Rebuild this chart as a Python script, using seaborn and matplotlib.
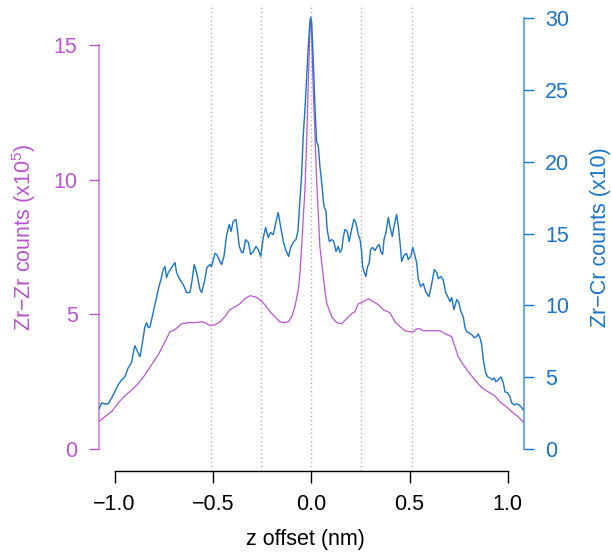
import numpy as np
import pandas as pd
import matplotlib
matplotlib.use("Agg")
import matplotlib.pyplot as plt
import seaborn as sns

# Zr-Zr pair counts (x10^5), left axis
z_zrzr = [-1.080, -1.049, -1.015, -0.982, -0.948, -0.914, -0.880, -0.846, -0.812, -0.778,
          -0.744, -0.719, -0.693, -0.659, -0.626, -0.592, -0.557, -0.541, -0.515, -0.490,
          -0.464, -0.439, -0.414, -0.388, -0.363, -0.337, -0.312, -0.286, -0.261, -0.236,
          -0.210, -0.185, -0.159, -0.134, -0.117, -0.100, -0.083, -0.066, -0.057, -0.049,
          -0.041, -0.032, -0.023, -0.015, -0.007, -0.003, 0.002, 0.010, 0.019, 0.027,
          0.044, 0.061, 0.078, 0.104, 0.129, 0.155, 0.180, 0.205, 0.222, 0.239,
          0.265, 0.290, 0.315, 0.341, 0.366, 0.400, 0.426, 0.451, 0.477, 0.502,
          0.519, 0.536, 0.553, 0.570, 0.604, 0.629, 0.655, 0.680, 0.714, 0.731,
          0.748, 0.773, 0.799, 0.824, 0.849, 0.875, 0.900, 0.934, 0.960, 0.994,
          1.027, 1.053, 1.078]
counts_zrzr = [1.02, 1.20, 1.39, 1.71, 1.97, 2.19, 2.42, 2.75, 3.13, 3.50,
               3.98, 4.35, 4.43, 4.65, 4.69, 4.69, 4.72, 4.69, 4.58, 4.61,
               4.72, 4.91, 5.17, 5.28, 5.39, 5.58, 5.69, 5.65, 5.54, 5.36,
               5.10, 4.91, 4.72, 4.69, 4.72, 4.91, 5.28, 5.92, 6.55, 7.51,
               8.52, 9.64, 11.50, 13.65, 15.51, 15.89, 15.40, 13.36, 11.68, 10.01,
               7.51, 6.40, 5.43, 4.91, 4.69, 4.65, 4.84, 5.02, 5.10, 5.39,
               5.47, 5.58, 5.47, 5.36, 5.17, 5.06, 4.72, 4.54, 4.39, 4.35,
               4.35, 4.46, 4.46, 4.39, 4.39, 4.39, 4.39, 4.28, 4.17, 3.79,
               3.42, 3.13, 2.86, 2.64, 2.42, 2.23, 2.12, 1.97, 1.75, 1.56,
               1.34, 1.19, 1.00]

# Zr-Cr pair counts (x10), right axis
z_zrcr = [-1.080, -1.066, -1.049, -1.033, -1.015, -0.999, -0.982, -0.964, -0.948, -0.931,
          -0.914, -0.905, -0.897, -0.888, -0.871, -0.863, -0.846, -0.837, -0.829, -0.820,
          -0.812, -0.795, -0.778, -0.761, -0.753, -0.744, -0.736, -0.727, -0.710, -0.693,
          -0.685, -0.668, -0.651, -0.634, -0.617, -0.608, -0.595, -0.583, -0.566, -0.557,
          -0.549, -0.541, -0.531, -0.515, -0.507, -0.490, -0.481, -0.464, -0.456, -0.444,
          -0.430, -0.417, -0.408, -0.397, -0.383, -0.376, -0.366, -0.354, -0.346, -0.334,
          -0.320, -0.308, -0.295, -0.281, -0.270, -0.257, -0.244, -0.232, -0.219, -0.207,
          -0.193, -0.180, -0.168, -0.156, -0.142, -0.129, -0.115, -0.105, -0.092, -0.078,
          -0.068, -0.057, -0.049, -0.041, -0.032, -0.023, -0.015, -0.007, -0.003, 0.002,
          0.010, 0.019, 0.027, 0.036, 0.044, 0.053, 0.061, 0.065, 0.075, 0.081,
          0.092, 0.104, 0.115, 0.126, 0.137, 0.146, 0.155, 0.163, 0.171, 0.183,
          0.193, 0.205, 0.217, 0.227, 0.239, 0.248, 0.256, 0.261, 0.270, 0.278,
          0.285, 0.295, 0.302, 0.312, 0.324, 0.336, 0.346, 0.353, 0.363, 0.370,
          0.380, 0.392, 0.400, 0.412, 0.421, 0.434, 0.443, 0.451, 0.460, 0.472,
          0.485, 0.493, 0.506, 0.516, 0.527, 0.536, 0.544, 0.556, 0.570, 0.582,
          0.599, 0.612, 0.626, 0.638, 0.646, 0.660, 0.671, 0.684, 0.694, 0.706,
          0.714, 0.726, 0.740, 0.751, 0.761, 0.773, 0.782, 0.790, 0.802, 0.816,
          0.829, 0.841, 0.849, 0.858, 0.867, 0.875, 0.887, 0.897, 0.909, 0.921,
          0.931, 0.938, 0.951, 0.965, 0.977, 0.985, 0.999, 1.011, 1.019, 1.033,
          1.045, 1.056, 1.067, 1.078]
counts_zrcr = [2.77, 3.21, 3.14, 3.14, 3.56, 3.98, 4.47, 4.81, 5.02, 5.65,
               6.00, 6.70, 7.19, 6.91, 6.42, 7.05, 8.51, 8.79, 8.44, 8.51,
               9.00, 10.05, 11.10, 12.00, 12.49, 12.70, 11.93, 12.28, 12.63, 12.98,
               12.28, 11.79, 11.44, 10.89, 10.89, 11.58, 12.84, 12.28, 11.10, 10.89,
               11.37, 11.79, 12.63, 12.84, 12.70, 13.61, 13.54, 13.05, 12.84, 13.40,
               14.93, 15.63, 15.14, 15.84, 15.98, 15.28, 14.10, 13.68, 13.68, 14.58,
               14.38, 13.54, 13.75, 14.10, 13.89, 13.40, 14.72, 15.42, 14.72, 15.07,
               14.93, 15.77, 16.47, 15.49, 14.44, 13.82, 13.40, 14.03, 14.38, 14.58,
               15.14, 17.38, 19.12, 21.77, 23.66, 25.96, 28.05, 29.73, 30.05, 29.73,
               27.14, 23.66, 21.42, 21.07, 19.68, 18.56, 17.38, 16.89, 16.54, 15.28,
               14.44, 14.58, 14.44, 13.75, 14.10, 13.68, 13.89, 14.72, 15.28, 15.14,
               14.44, 15.28, 15.98, 15.77, 14.93, 14.58, 13.75, 12.70, 12.28, 12.00,
               12.63, 12.98, 13.89, 14.03, 13.82, 14.10, 14.24, 13.75, 13.54, 14.58,
               15.07, 16.12, 15.49, 14.79, 15.49, 16.33, 15.49, 14.44, 13.05, 13.47,
               13.61, 13.19, 13.40, 14.03, 13.47, 12.98, 11.86, 11.30, 11.51, 10.95,
               10.61, 11.44, 12.49, 12.28, 11.86, 12.00, 11.79, 10.89, 10.61, 10.26,
               10.54, 9.70, 10.40, 10.19, 9.56, 9.21, 8.44, 8.16, 8.09, 7.96,
               7.75, 7.82, 8.02, 7.75, 7.26, 6.21, 5.30, 5.02, 4.95, 4.81,
               4.95, 4.68, 4.81, 5.02, 4.60, 3.98, 3.91, 3.63, 3.21, 3.07,
               3.14, 3.07, 2.93, 2.72]

# dotted reference planes
planes = [-0.51, -0.255, 0.0, 0.255, 0.51]

x_ticks = [-1.0, -0.5, 0.0, 0.5, 1.0]
x_ticklabels = ["\u22121.0", "\u22120.5", "0.0", "0.5", "1.0"]
left_ticks = [0, 5, 10, 15]
right_ticks = [0, 5, 10, 15, 20, 25, 30]

purple = "#BA55D3"
blue = "#1874CD"

sns.set_style("white")
plt.rcParams["font.family"] = ["Liberation Sans", "DejaVu Sans"]
plt.rcParams["mathtext.default"] = "regular"

df_zz = pd.DataFrame({"z": z_zrzr, "counts": counts_zrzr})
df_zc = pd.DataFrame({"z": z_zrcr, "counts": counts_zrcr})

fig = plt.figure(figsize=(6.12, 5.54), dpi=100)
ax = fig.add_axes([0.1613, 0.1498, 0.6949, 0.8430])
ax2 = ax.twinx()

for p in planes:
    ax.axvline(p, color="#b0b0b0", lw=1.0, ls=(0, (1, 2)), zorder=0)

sns.lineplot(data=df_zz, x="z", y="counts", ax=ax, color=purple, lw=0.9, sort=False)
sns.lineplot(data=df_zc, x="z", y="counts", ax=ax2, color=blue, lw=1.0, sort=False)

ax.set_xlim(-1.081, 1.082)
ax.set_ylim(-0.818, 16.52)
ax2.set_ylim(-1.535, 30.98)

# spines R-style: only over the tick range
for s in ["top", "right"]:
    ax.spines[s].set_visible(False)
for s in ["top", "left", "bottom"]:
    ax2.spines[s].set_visible(False)
ax.spines["bottom"].set_bounds(-1, 1)
ax.spines["bottom"].set_linewidth(1.0)
ax.spines["bottom"].set_color("black")
ax.spines["left"].set_bounds(0, 15)
ax.spines["left"].set_color(purple)
ax.spines["left"].set_alpha(0.6)
ax.spines["left"].set_linewidth(1.5)
ax2.spines["right"].set_bounds(0, 30)
ax2.spines["right"].set_color(blue)
ax2.spines["right"].set_alpha(0.6)
ax2.spines["right"].set_linewidth(1.5)

ax.set_xticks(x_ticks)
ax.set_xticklabels(x_ticklabels)
ax.set_yticks(left_ticks)
ax.set_yticklabels([str(t) for t in left_ticks])
ax2.set_yticks(right_ticks)
ax2.set_yticklabels([str(t) for t in right_ticks])

ax.tick_params(axis="x", direction="out", length=8.6, width=1.0, pad=8,
               labelsize=15.5, colors="black", bottom=True)
ax.tick_params(axis="y", direction="out", length=7.2, width=1.0, pad=8,
               labelsize=15.5, colors=purple, left=True)
ax2.tick_params(axis="y", direction="out", length=7.2, width=1.0, pad=8,
                labelsize=15.5, colors=blue, right=True)

ax.set_xlabel("z offset (nm)", fontsize=15.5, color="black")
ax.set_ylabel("Zr\u2212Zr counts (x10$^{5}$)", fontsize=15.5, color=purple)
ax2.set_ylabel("Zr\u2212Cr counts (x10)", fontsize=15.5, color=blue)
ax.xaxis.set_label_coords(0.4865, -0.124)
ax.yaxis.set_label_coords(-0.143, 0.5)
ax2.yaxis.set_label_coords(1.156, 0.5)

fig.savefig("out.png", dpi=100)
